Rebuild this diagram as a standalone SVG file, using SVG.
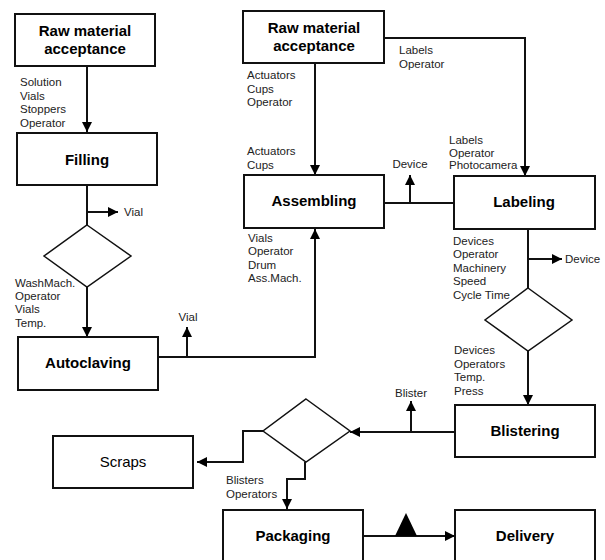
<svg xmlns="http://www.w3.org/2000/svg" width="605" height="560" viewBox="0 0 605 560">
  <defs>
    <marker id="arrow" viewBox="0 0 10 10" refX="10" refY="5" markerWidth="10" markerHeight="10" markerUnits="userSpaceOnUse" orient="auto">
      <path d="M0,0 L10,5 L0,10 Z" fill="#000"/>
    </marker>
    <style>
      .box { fill: #fff; stroke: #111; stroke-width: 2; }
      .dia { fill: #fff; stroke: #111; stroke-width: 1.5; }
      .ln { fill: none; stroke: #111; stroke-width: 2; }
      .arr { fill: none; stroke: #111; stroke-width: 2; marker-end: url(#arrow); }
      .title { font-family: "Liberation Sans", Arial, sans-serif; font-size: 15px; font-weight: bold; text-anchor: middle; fill: #000; }
      .plain { font-family: "Liberation Sans", Arial, sans-serif; font-size: 15px; text-anchor: middle; fill: #000; }
      .lbl { font-family: "Liberation Sans", Arial, sans-serif; font-size: 11.5px; fill: #222; }
      .lblc { font-family: "Liberation Sans", Arial, sans-serif; font-size: 11.5px; fill: #222; text-anchor: middle; }
    </style>
  </defs>

  <!-- connectors -->
  <g id="connectors">
    <!-- left column -->
    <line class="arr" x1="87" y1="66" x2="87" y2="132"/>
    <line class="ln" x1="87" y1="185" x2="87" y2="225"/>
    <line class="arr" x1="87" y1="212" x2="118" y2="212"/>
    <line class="arr" x1="87" y1="287" x2="87" y2="337"/>
    <!-- Autoclaving to Assembling -->
    <polyline class="arr" points="158,357 315,357 315,229"/>
    <line class="arr" x1="187" y1="357" x2="187" y2="327"/>
    <!-- second raw material -->
    <line class="arr" x1="315" y1="63" x2="315" y2="175"/>
    <polyline class="arr" points="384,38 525,38 525,176"/>
    <!-- Assembling to Labeling -->
    <line class="ln" x1="384" y1="203" x2="454" y2="203"/>
    <line class="arr" x1="410" y1="203" x2="410" y2="175"/>
    <!-- Labeling down -->
    <line class="ln" x1="528" y1="229" x2="528" y2="288"/>
    <line class="arr" x1="528" y1="259" x2="562" y2="259"/>
    <line class="arr" x1="528" y1="351" x2="528" y2="405"/>
    <!-- Blistering to decision -->
    <line class="arr" x1="455" y1="432" x2="350" y2="432"/>
    <line class="arr" x1="411" y1="432" x2="411" y2="401"/>
    <!-- decision to Scraps -->
    <polyline class="arr" points="263,431 243,431 243,462 197,462"/>
    <!-- decision to Packaging -->
    <polyline class="arr" points="305,462 305,479 287,479 287,509"/>
    <!-- Packaging to Delivery -->
    <line class="arr" x1="363" y1="536" x2="455" y2="536"/>
    <polygon points="395,536 417,536 406,513" fill="#000"/>
  </g>

  <!-- nodes -->
  <g id="raw1">
    <rect class="box" x="15" y="14" width="140" height="52"/>
    <text class="title" x="85" y="36">Raw material</text>
    <text class="title" x="85" y="54">acceptance</text>
  </g>
  <g id="filling">
    <rect class="box" x="17" y="133" width="140" height="52"/>
    <text class="title" x="87" y="165">Filling</text>
  </g>
  <g id="decision1">
    <polygon class="dia" points="87,225 131,256 87,287 44,256"/>
  </g>
  <g id="autoclaving">
    <rect class="box" x="18" y="337" width="140" height="53"/>
    <text class="title" x="88" y="368">Autoclaving</text>
  </g>
  <g id="raw2">
    <rect class="box" x="243" y="11" width="141" height="52"/>
    <text class="title" x="314" y="33">Raw material</text>
    <text class="title" x="314" y="51">acceptance</text>
  </g>
  <g id="assembling">
    <rect class="box" x="244" y="175" width="140" height="53"/>
    <text class="title" x="314" y="206">Assembling</text>
  </g>
  <g id="labeling">
    <rect class="box" x="454" y="176" width="141" height="53"/>
    <text class="title" x="524" y="207">Labeling</text>
  </g>
  <g id="decision2">
    <polygon class="dia" points="528,288 572,320 528,351 485,320"/>
  </g>
  <g id="blistering">
    <rect class="box" x="455" y="405" width="140" height="52"/>
    <text class="title" x="525" y="436">Blistering</text>
  </g>
  <g id="decision3">
    <polygon class="dia" points="306,399 350,431 306,462 263,431"/>
  </g>
  <g id="scraps">
    <rect class="box" x="53" y="436" width="140" height="52"/>
    <text class="plain" x="123" y="467">Scraps</text>
  </g>
  <g id="packaging">
    <rect class="box" x="223" y="510" width="140" height="60"/>
    <text class="title" x="293" y="541">Packaging</text>
  </g>
  <g id="delivery">
    <rect class="box" x="455" y="510" width="140" height="60"/>
    <text class="title" x="525" y="541">Delivery</text>
  </g>

  <!-- connector labels -->
  <g id="labels">
    <text class="lbl" x="20" y="86">Solution</text>
    <text class="lbl" x="20" y="100">Vials</text>
    <text class="lbl" x="20" y="113">Stoppers</text>
    <text class="lbl" x="20" y="127">Operator</text>

    <text class="lbl" x="124" y="216">Vial</text>

    <text class="lbl" x="15" y="287">WashMach.</text>
    <text class="lbl" x="15" y="300">Operator</text>
    <text class="lbl" x="15" y="313">Vials</text>
    <text class="lbl" x="15" y="327">Temp.</text>

    <text class="lblc" x="188" y="321">Vial</text>

    <text class="lbl" x="247" y="79">Actuators</text>
    <text class="lbl" x="247" y="93">Cups</text>
    <text class="lbl" x="247" y="106">Operator</text>
    <text class="lbl" x="247" y="155">Actuators</text>
    <text class="lbl" x="247" y="169">Cups</text>

    <text class="lbl" x="399" y="54">Labels</text>
    <text class="lbl" x="399" y="68">Operator</text>

    <text class="lbl" x="449" y="144">Labels</text>
    <text class="lbl" x="449" y="157">Operator</text>
    <text class="lbl" x="449" y="169">Photocamera</text>

    <text class="lblc" x="410" y="168">Device</text>

    <text class="lbl" x="248" y="242">Vials</text>
    <text class="lbl" x="248" y="255">Operator</text>
    <text class="lbl" x="248" y="269">Drum</text>
    <text class="lbl" x="248" y="282">Ass.Mach.</text>

    <text class="lbl" x="453" y="245">Devices</text>
    <text class="lbl" x="453" y="258">Operator</text>
    <text class="lbl" x="453" y="272">Machinery</text>
    <text class="lbl" x="453" y="285">Speed</text>
    <text class="lbl" x="453" y="299">Cycle Time</text>

    <text class="lbl" x="565" y="263">Device</text>

    <text class="lbl" x="454" y="354">Devices</text>
    <text class="lbl" x="454" y="368">Operators</text>
    <text class="lbl" x="454" y="381">Temp.</text>
    <text class="lbl" x="454" y="395">Press</text>

    <text class="lblc" x="411" y="397">Blister</text>

    <text class="lbl" x="226" y="484">Blisters</text>
    <text class="lbl" x="226" y="498">Operators</text>
  </g>
</svg>
